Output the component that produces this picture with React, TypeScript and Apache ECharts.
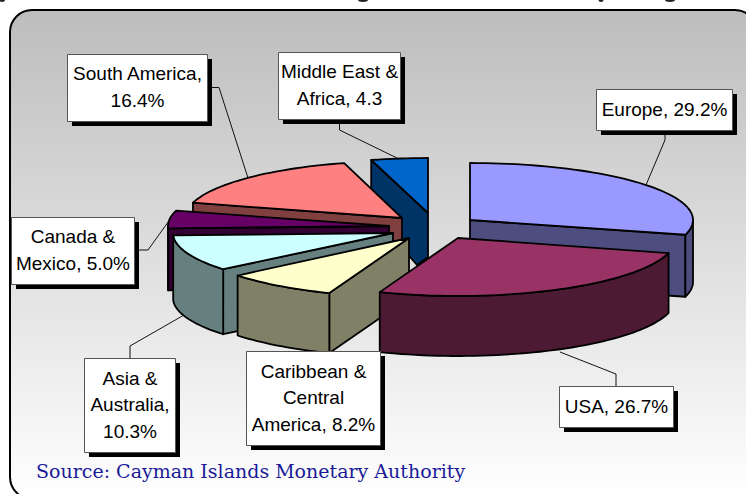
import React, { useEffect, useRef } from "react";
import * as echarts from "echarts";

const categories = ["Europe", "USA", "Caribbean & Central America", "Asia & Australia", "Canada & Mexico", "South America", "Middle East & Africa"];
const shares = [29.2, 26.7, 8.2, 10.3, 5.0, 16.4, 4.3];
const topColors = ["#9999FF", "#993366", "#FFFFCC", "#CCFFFF", "#660066", "#FF8080", "#0066CC"];
const wallColors = ["#4D4D80", "#4D1A33", "#808066", "#668080", "#330033", "#804040", "#003366"];
const labelTexts = ["Europe, 29.2%", "USA, 26.7%", "Caribbean &\nCentral\nAmerica, 8.2%", "Asia &\nAustralia,\n10.3%", "Canada &\nMexico, 5.0%", "South America,\n16.4%", "Middle East &\nAfrica, 4.3"];

// exploded slice geometry: [centre x, centre y, radius x, radius y, depth, bottom-apex shift]
const sliceGeometry = [
  [470, 220, 223, 57, 62, 0],
  [458, 238, 218, 58, 60, 0],
  [409, 238, 222, 59, 60, 0],
  [393, 233, 220, 57, 65, 0],
  [389, 226, 221, 57, 62, 0],
  [402, 218, 217, 57, 62, 0],
  [428, 213, 213, 55, 52, -11],
];
const drawOrder = [6, 0, 5, 4, 3, 2, 1];
// label box: [left, top, right, bottom]
const labelBoxes = [
  [596, 89, 732, 130],
  [559, 386, 673, 427],
  [246, 351, 380, 445],
  [84, 358, 175, 452],
  [11, 217, 134, 284],
  [67, 54, 207, 121],
  [278, 52, 400, 119],
];
const leaderLines = [
  [[665, 135], [665, 140], [646, 185]],
  [[616, 386], [616, 374], [560, 352]],
  [],
  [[130, 358], [130, 346], [184, 315]],
  [[139, 250], [148, 250], [171, 218]],
  [[207, 87.5], [219, 87.5], [248, 178]],
  [[339.5, 124], [339.5, 130], [397, 158]],
];
const sourceText = "Source: Cayman Islands Monetary Authority";

const total = shares.reduce((a, b) => a + b, 0);
const starts: number[] = [];
shares.reduce((acc, v, i) => {
  starts[i] = acc;
  return acc + v;
}, 0);

const STROKE = { stroke: "#000", lineWidth: 1.8, lineJoin: "round" };

function renderSlice(_params: any, api: any) {
  const i = api.value(0);
  const [cx, cy, rx, ry, depth, shift] = sliceGeometry[i];
  const a0 = (starts[i] / total) * 360;
  const a1 = ((starts[i] + shares[i]) / total) * 360;
  const pt = (deg: number) => {
    const r = (deg * Math.PI) / 180;
    return [cx + rx * Math.sin(r), cy - ry * Math.cos(r)];
  };
  const down = (p: number[]) => [p[0], p[1] + depth];
  const arc = (from: number, to: number) => {
    const n = Math.max(2, Math.ceil((to - from) / 2));
    const out: number[][] = [];
    for (let k = 0; k <= n; k++) out.push(pt(from + ((to - from) * k) / n));
    return out;
  };
  const apex = [cx, cy];
  const apexDown = [cx + shift, cy + depth];
  const inner = shift !== 0 ? [apex, [cx, cy + depth - 8], apexDown] : [apex, apexDown];
  const children: any[] = [];
  const wall = (points: number[][]) =>
    children.push({ type: "polygon", shape: { points }, style: { fill: wallColors[i], ...STROKE } });

  if (Math.cos(((a0 - 90) * Math.PI) / 180) < -0.01) wall([pt(a0), ...inner, down(pt(a0))]);
  if (Math.cos(((a1 + 90) * Math.PI) / 180) < -0.01) wall([pt(a1), ...inner, down(pt(a1))]);
  const f0 = Math.max(a0, 90);
  const f1 = Math.min(a1, 270);
  if (f1 > f0) {
    const top = arc(f0, f1);
    wall([...top, ...top.slice().reverse().map(down)]);
  }
  children.push({
    type: "polygon",
    shape: { points: [apex, ...arc(a0, a1)] },
    style: { fill: topColors[i], ...STROKE },
  });
  return { type: "group", children };
}

export default function App() {
  const ref = useRef<HTMLDivElement>(null);
  useEffect(() => {
    document.body.style.margin = "0";
    const chart = echarts.init(ref.current!, null, { renderer: "svg" });
    const graphic: any[] = [
      {
        type: "rect",
        z: -10,
        shape: { x: 10, y: 10, width: 747, height: 489, r: 22 },
        style: {
          stroke: "#000",
          lineWidth: 2,
          fill: new echarts.graphic.LinearGradient(0, 0, 0, 1, [
            { offset: 0, color: "#BDBDBD" },
            { offset: 1, color: "#FFFFFF" },
          ]),
        },
      },
    ];
    // clipped descenders of the cut-off headline at the page top
    [[2, 3], [363, 5], [601, 2.5], [670, 5]].forEach(([cx, r]) =>
      graphic.push({ type: "ellipse", z: -10, shape: { cx, cy: 0, rx: r, ry: 2 }, style: { fill: "#222" } })
    );
    labelTexts.forEach((t, i) => {
      const [l, tp, r, b] = labelBoxes[i];
      if (leaderLines[i].length)
        graphic.push({
          type: "polyline",
          z: 20,
          shape: { points: leaderLines[i] },
          style: { stroke: "#111", lineWidth: 1, fill: "none" },
        });
      graphic.push({
        type: "rect",
        z: 21,
        shape: { x: l + 5, y: tp + 5, width: r - l, height: b - tp },
        style: { fill: "#000" },
      });
      graphic.push({
        type: "rect",
        z: 22,
        shape: { x: l + 0.5, y: tp + 0.5, width: r - l, height: b - tp },
        style: { fill: "#fff", stroke: "#555", lineWidth: 1 },
      });
      graphic.push({
        type: "text",
        z: 23,
        style: {
          text: t,
          x: (l + r) / 2 + 0.5,
          y: (tp + b) / 2 - 0.5,
          textAlign: "center",
          textVerticalAlign: "middle",
          font: '19px "Liberation Sans"',
          lineHeight: 26.5,
          fill: "#000",
        },
      });
    });
    graphic.push({
      type: "text",
      z: 23,
      style: {
        text: sourceText,
        x: 36,
        y: 471,
        textAlign: "left",
        textVerticalAlign: "middle",
        font: '19px "DejaVu Serif"',
        fill: "#1A1A99",
      },
    });
    chart.setOption({
      animation: false,
      backgroundColor: "#fff",
      graphic,
      series: [
        {
          type: "custom",
          coordinateSystem: "none",
          silent: true,
          z: 5,
          data: drawOrder.map((i) => ({ name: categories[i], value: [i, shares[i]] })),
          renderItem: renderSlice,
        },
      ],
    });
    return () => chart.dispose();
  }, []);
  return <div ref={ref} style={{ position: "fixed", left: 0, top: 0, width: 746, height: 494 }} />;
}
